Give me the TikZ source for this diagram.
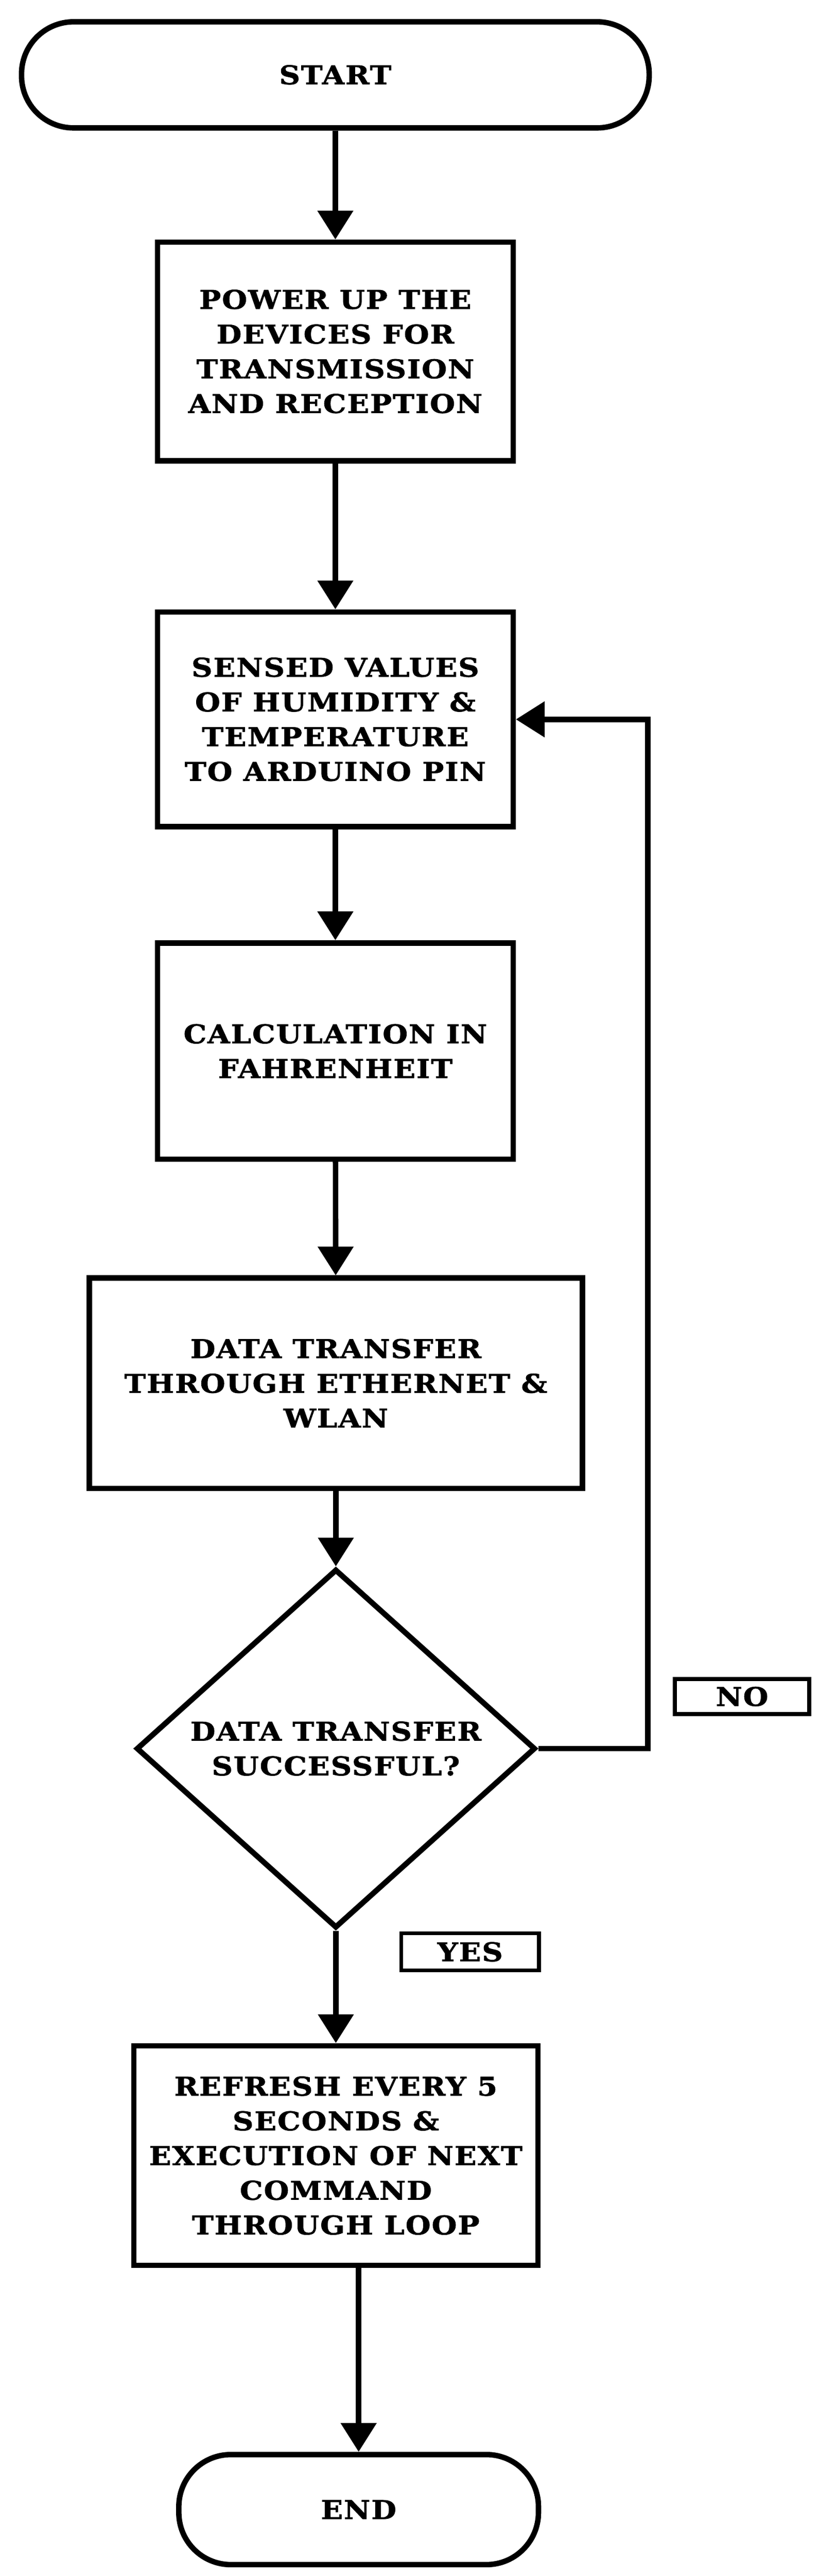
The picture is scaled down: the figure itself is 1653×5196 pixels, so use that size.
\documentclass[tikz,border=0pt]{standalone}
\usepackage{fontspec}
\setmainfont{DejaVu Serif}[LetterSpace=4, FakeStretch=1.12, BoldFeatures={FakeBold=1.5}]
\usetikzlibrary{arrows.meta,shapes.geometric}
\begin{document}
\begin{tikzpicture}[x=1pt,y=-1pt,
  txt/.style={font=\fontsize{52}{70}\selectfont\bfseries, text=black},
  box/.style={txt, draw=black, rectangle, align=center, inner sep=0pt, line width=11pt},
  term/.style={box, rounded corners=105pt},
  dec/.style={txt, draw=black, diamond, aspect=1.11, align=center, inner sep=0pt, line width=11pt},
  lab/.style={txt, draw=black, rectangle, inner sep=0pt, line width=8pt},
  arr/.style={draw=black, line width=11pt, -{Triangle[length=58pt,width=70pt]}}
]
\useasboundingbox[fill=white] (0,0) rectangle (1653,5196);

\node[term, minimum width=1267pt, minimum height=214pt] (start) at (677,151) {START};
\node[box, minimum width=718pt, minimum height=441pt] (b1) at (677,709)
  {POWER UP THE\\DEVICES FOR\\TRANSMISSION\\AND RECEPTION};
\node[box, minimum width=718pt, minimum height=433pt] (b2) at (677,1451)
  {SENSED VALUES\\OF HUMIDITY \&\\TEMPERATURE\\TO ARDUINO PIN};
\node[box, minimum width=718pt, minimum height=436pt] (b3) at (677,2120)
  {CALCULATION IN\\FAHRENHEIT};
\node[box, minimum width=996pt, minimum height=424pt] (b4) at (678,2790)
  {DATA TRANSFER\\THROUGH ETHERNET \&\\WLAN};
\node[dec, minimum width=806pt, minimum height=724pt] (d) at (678,3527)
  {DATA TRANSFER\\SUCCESSFUL?};
\node[box, minimum width=816pt, minimum height=443pt] (b5) at (678,4348)
  {REFRESH EVERY 5\\SECONDS \&\\EXECUTION OF NEXT\\COMMAND\\THROUGH LOOP};
\node[term, minimum width=726pt, minimum height=222pt] (end) at (724,5062) {END};

\node[lab, minimum width=271pt, minimum height=71pt] (no) at (1498,3422) {NO};
\node[lab, minimum width=278pt, minimum height=75pt] (yes) at (949,3937) {YES};

\coordinate (fb) at (1308,3527);

\draw[arr] (start) -- (b1);
\draw[arr] (b1) -- (b2);
\draw[arr] (b2) -- (b3);
\draw[arr] (b3) -- (b4);
\draw[arr] (b4) -- (d);
\draw[arr] (d) -- (b5);
\draw[arr] (b5.south -| end.north) -- (end.north);
\draw[arr] (d.east) -- (fb) |- (b2.east);
\end{tikzpicture}
\end{document}
